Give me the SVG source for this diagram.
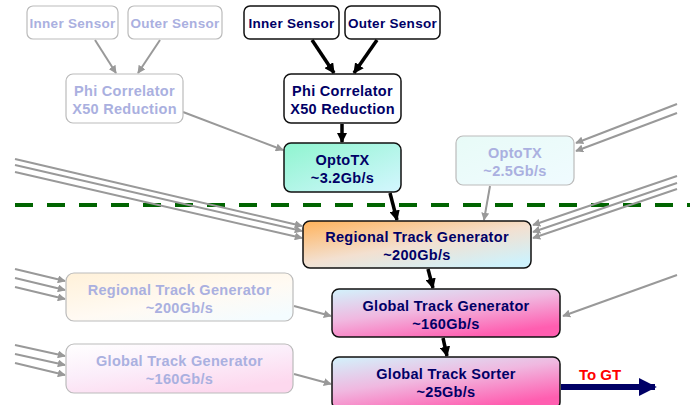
<svg xmlns="http://www.w3.org/2000/svg" width="693" height="405" viewBox="0 0 693 405">
<defs>
<marker id="ag" viewBox="0 0 10 10" refX="9" refY="5" markerWidth="4" markerHeight="4" orient="auto" markerUnits="strokeWidth"><path d="M0,0 L10,5 L0,10 z" fill="#999"/></marker>
<marker id="ab" viewBox="0 0 10 10" refX="9" refY="5" markerWidth="3" markerHeight="3" orient="auto" markerUnits="strokeWidth"><path d="M0,0 L10,5 L0,10 z" fill="#000"/></marker>
<marker id="an" viewBox="0 0 10 10" refX="9" refY="5" markerWidth="3" markerHeight="3" orient="auto" markerUnits="strokeWidth"><path d="M0,0 L10,5 L0,10 z" fill="#000066"/></marker>
<linearGradient id="gOpto" x1="0" y1="0" x2="1" y2="1"><stop offset="0" stop-color="#8ff5cf"/><stop offset="1" stop-color="#d4f6ff"/></linearGradient>
<linearGradient id="gFOpto" x1="0" y1="0" x2="1" y2="1"><stop offset="0" stop-color="#e8fbf7"/><stop offset="1" stop-color="#f0fbff"/></linearGradient>
<linearGradient id="gRTG" x1="0" y1="0" x2="0.8" y2="1"><stop offset="0" stop-color="#ffb25a"/><stop offset="0.55" stop-color="#f3e0d0"/><stop offset="1" stop-color="#cef2fc"/></linearGradient>
<linearGradient id="gFRTG" x1="0" y1="0" x2="0.8" y2="1"><stop offset="0" stop-color="#fff1d9"/><stop offset="0.6" stop-color="#fffaf3"/><stop offset="1" stop-color="#f4fcff"/></linearGradient>
<linearGradient id="gGTG" x1="0" y1="0" x2="0.6" y2="1"><stop offset="0" stop-color="#d2f3fc"/><stop offset="0.5" stop-color="#f0b8e0"/><stop offset="1" stop-color="#ff5eb0"/></linearGradient>
<linearGradient id="gFGTG" x1="0" y1="0" x2="0.6" y2="1"><stop offset="0" stop-color="#ffffff"/><stop offset="0.5" stop-color="#fbeefa"/><stop offset="1" stop-color="#fdd8ee"/></linearGradient>
<style>
.n{stroke:#111;stroke-width:1.5}
.f{stroke:#bbb;stroke-width:1.2}
.t{font-family:"Liberation Sans",Arial,sans-serif;font-weight:bold;font-size:14.5px;letter-spacing:0.3px;fill:#000066;text-anchor:middle}
.tf{font-family:"Liberation Sans",Arial,sans-serif;font-weight:bold;font-size:14.5px;letter-spacing:0.3px;fill:#aab0e0;text-anchor:middle}
.s{font-size:13.5px}
.g{stroke:#999;stroke-width:2;fill:none;marker-end:url(#ag)}
.b{stroke:#000;stroke-width:3.5;fill:none;marker-end:url(#ab)}
</style>
</defs>
<rect width="693" height="405" fill="#fff"/>
<line x1="15" y1="205" x2="690" y2="205" stroke="#006400" stroke-width="4" stroke-dasharray="18,14"/>
<g id="connectors">
<line class="g" x1="95" y1="40" x2="116" y2="73"/>
<line class="g" x1="160" y1="40" x2="138" y2="73"/>
<line class="g" x1="183" y1="112" x2="283" y2="150"/>
<line class="g" x1="490" y1="186" x2="484" y2="220"/>
<line class="g" x1="677" y1="104" x2="576" y2="143"/>
<line class="g" x1="677" y1="113" x2="576" y2="151"/>
<line class="g" x1="677" y1="176" x2="533" y2="225"/>
<line class="g" x1="677" y1="183" x2="533" y2="232"/>
<line class="g" x1="677" y1="189" x2="533" y2="238"/>
<line class="g" x1="15" y1="159" x2="302" y2="226"/>
<line class="g" x1="15" y1="165" x2="302" y2="231"/>
<line class="g" x1="15" y1="172" x2="302" y2="238"/>
<line class="g" x1="15" y1="269" x2="65" y2="281"/>
<line class="g" x1="15" y1="278" x2="65" y2="290"/>
<line class="g" x1="15" y1="287" x2="65" y2="299"/>
<line class="g" x1="15" y1="345" x2="65" y2="356"/>
<line class="g" x1="15" y1="354" x2="65" y2="365"/>
<line class="g" x1="15" y1="363" x2="65" y2="375"/>
<line class="g" x1="294" y1="306" x2="331" y2="316"/>
<line class="g" x1="294" y1="374" x2="331" y2="384"/>
<line class="g" x1="677" y1="275" x2="563" y2="316"/>
<line class="b" x1="312" y1="40" x2="334" y2="73"/>
<line class="b" x1="377" y1="40" x2="354" y2="73"/>
<line class="b" x1="342" y1="124" x2="342" y2="142"/>
<line class="b" x1="390" y1="193" x2="397" y2="220"/>
<line class="b" x1="428" y1="269" x2="433" y2="288"/>
<line class="b" x1="443" y1="338" x2="447" y2="356"/>
<line x1="561" y1="387" x2="655" y2="387" stroke="#000066" stroke-width="6" marker-end="url(#an)"/>
</g>
<g id="f-inner"><rect class="f" x="27" y="6" width="91" height="33" rx="6" fill="#fff"/><text class="tf s" x="72.5" y="27.5">Inner Sensor</text></g>
<g id="f-outer"><rect class="f" x="128" y="6" width="94" height="33" rx="6" fill="#fff"/><text class="tf s" x="175" y="27.5">Outer Sensor</text></g>
<g id="f-phi"><rect class="f" x="66" y="74" width="117" height="49" rx="7" fill="#fff"/><text class="tf" x="124.5" y="96">Phi Correlator</text><text class="tf" x="124.5" y="114">X50 Reduction</text></g>
<g id="inner"><rect class="n" x="244" y="6" width="95" height="33" rx="6" fill="#fff"/><text class="t s" x="291.5" y="27.5">Inner Sensor</text></g>
<g id="outer"><rect class="n" x="345" y="6" width="95" height="33" rx="6" fill="#fff"/><text class="t s" x="392.5" y="27.5">Outer Sensor</text></g>
<g id="phi"><rect class="n" x="284" y="74" width="117" height="49" rx="7" fill="#fff"/><text class="t" x="342.5" y="96">Phi Correlator</text><text class="t" x="342.5" y="114">X50 Reduction</text></g>
<g id="opto"><rect class="n" x="284" y="143" width="117" height="49" rx="7" fill="url(#gOpto)"/><text class="t" x="342.5" y="165">OptoTX</text><text class="t" x="342.5" y="183">~3.2Gb/s</text></g>
<g id="f-opto"><rect class="f" x="456" y="136" width="118" height="49" rx="7" fill="url(#gFOpto)"/><text class="tf" x="515" y="158">OptoTX</text><text class="tf" x="515" y="176">~2.5Gb/s</text></g>
<g id="rtg"><rect class="n" x="303" y="221" width="228" height="47" rx="7" fill="url(#gRTG)"/><text class="t" x="417" y="242">Regional Track Generator</text><text class="t" x="417" y="260">~200Gb/s</text></g>
<g id="f-rtg"><rect class="f" x="66" y="273" width="227" height="48" rx="8" fill="url(#gFRTG)"/><text class="tf" x="179.5" y="295">Regional Track Generator</text><text class="tf" x="179.5" y="313">~200Gb/s</text></g>
<g id="gtg"><rect class="n" x="332" y="289" width="228" height="48" rx="7" fill="url(#gGTG)"/><text class="t" x="446" y="311">Global Track Generator</text><text class="t" x="446" y="329">~160Gb/s</text></g>
<g id="f-gtg"><rect class="f" x="66" y="344" width="227" height="49" rx="8" fill="url(#gFGTG)"/><text class="tf" x="179.5" y="366">Global Track Generator</text><text class="tf" x="179.5" y="384">~160Gb/s</text></g>
<g id="gts"><rect class="n" x="332" y="357" width="228" height="52" rx="7" fill="url(#gGTG)"/><text class="t" x="446" y="379">Global Track Sorter</text><text class="t" x="446" y="397">~25Gb/s</text></g>
<g id="togt"><text x="600" y="380" font-family="Liberation Sans,Arial,sans-serif" font-weight="bold" font-size="15" fill="#ff0000" text-anchor="middle">To GT</text></g>
</svg>
